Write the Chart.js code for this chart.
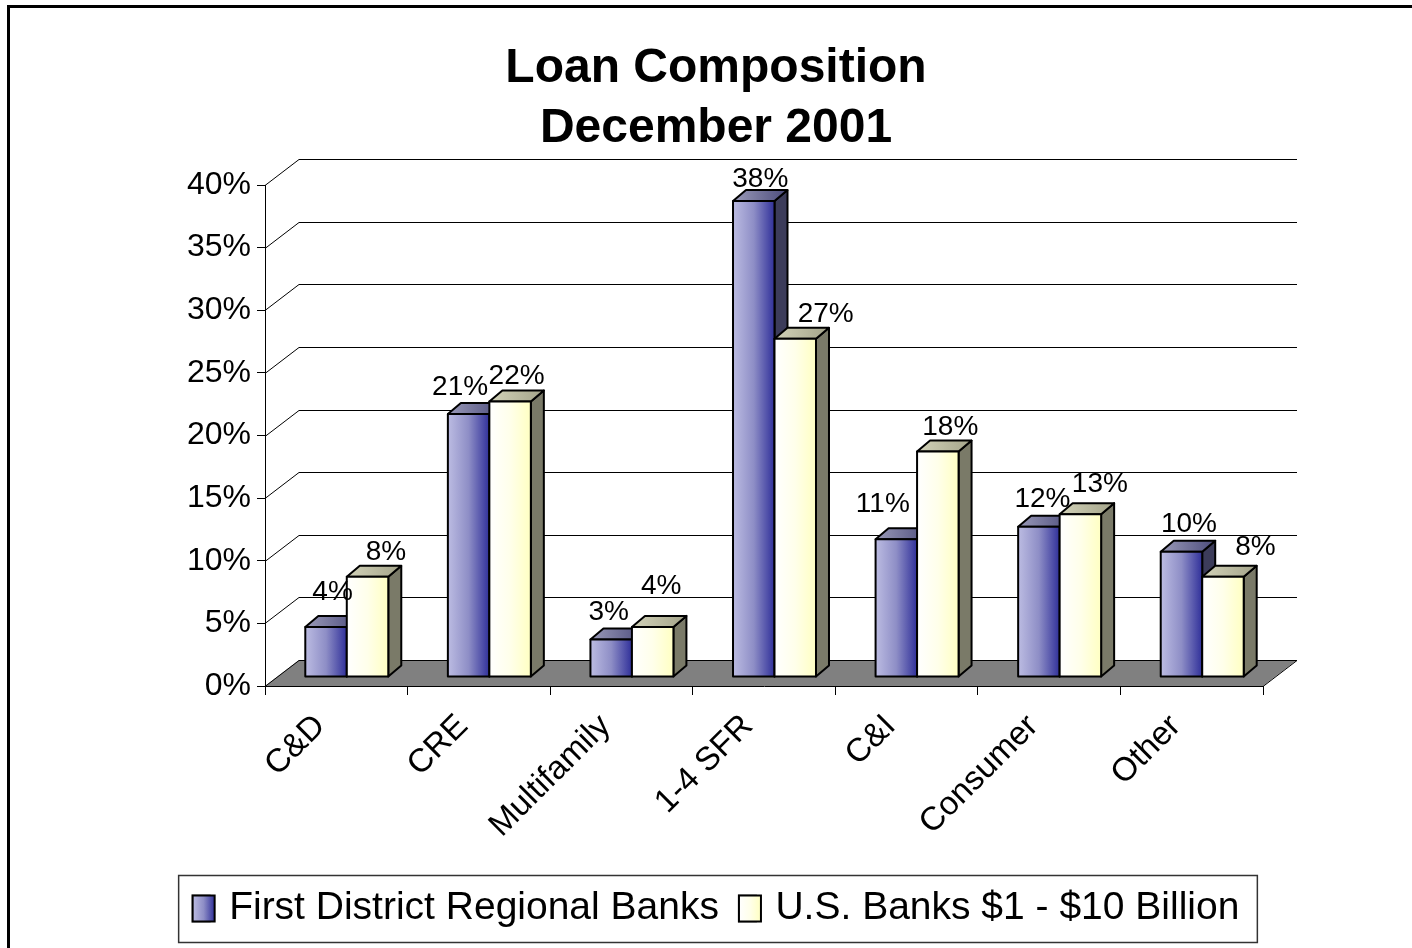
<!DOCTYPE html>
<html>
<head>
<meta charset="utf-8">
<title>Loan Composition December 2001</title>
<script src="https://cdn.jsdelivr.net/npm/chart.js@4.4.1/dist/chart.umd.min.js"></script>
<style>
  html, body { margin: 0; padding: 0; background: #fff; }
  canvas { display: block; }
</style>
</head>
<body>
<canvas id="loanChart" width="1412" height="948"></canvas>
<script>
/* -----------------------------
   DATA
----------------------------- */
const categories = ["C&D", "CRE", "Multifamily", "1-4 SFR", "C&I", "Consumer", "Other"];
const seriesNames = ["First District Regional Banks", "U.S. Banks $1 - $10 Billion"];
const firstDistrict = [4, 21, 3, 38, 11, 12, 10];
const usBanks = [8, 22, 4, 27, 18, 13, 8];
const yTicks = [0, 5, 10, 15, 20, 25, 30, 35, 40];

/* -----------------------------
   LOOK
----------------------------- */
const FONT = "'Liberation Sans', Arial, Helvetica, sans-serif";
const wall = { dx: 34, dy: -26 };       // floor / back wall depth
const barFront = { dx: 10.5, dy: -9 };  // bars stand a bit back from the front edge
const barDepth = { dx: 13, dy: -11 };

const looks = [
    { front: ["#bcbce2", "#8e8ec6", "#30309a"], top: ["#9a9ab8", "#4c4c7c"], side: "#3c3c5a" },
    { front: ["#ffffff", "#ffffea", "#ffffc2"], top: ["#d2d2b8", "#a4a48a"], side: "#7a7a68" }
];

// label nudges [x, lift] so the numbers clear the neighbouring bars
const labelShift = [
    [[0, 10], [-15, 2], [-9, 2], [0, -3], [-20, 10], [-3, 3], [1, 3]],
    [[12, 0], [0, 0], [2, 16], [24, 0], [6, 0], [13, 5], [26, 5]]
];

const LEGEND_FONT = 39;
const SWATCH = { w: 22, h: 26 };

function hGradient(ctx, x0, x1, stops) {
    const g = ctx.createLinearGradient(x0, 0, x1, 0);
    stops.forEach((c, i) => g.addColorStop(i / (stops.length - 1), c));
    return g;
}

function drawBox(ctx, bar, look) {
    const p = bar.getProps(["x", "y", "base", "width"], true);
    const half = p.width / 2;
    const x0 = p.x - half + barFront.dx;
    const x1 = p.x + half + barFront.dx;
    const yt = p.y + barFront.dy;
    const yb = p.base + barFront.dy;
    const { dx, dy } = barDepth;

    ctx.save();
    ctx.lineWidth = 2;
    ctx.lineJoin = "round";
    ctx.strokeStyle = "#000";

    // side
    ctx.beginPath();
    ctx.moveTo(x1, yt);
    ctx.lineTo(x1 + dx, yt + dy);
    ctx.lineTo(x1 + dx, yb + dy);
    ctx.lineTo(x1, yb);
    ctx.closePath();
    ctx.fillStyle = look.side;
    ctx.fill();
    ctx.stroke();

    // top
    ctx.beginPath();
    ctx.moveTo(x0, yt);
    ctx.lineTo(x1, yt);
    ctx.lineTo(x1 + dx, yt + dy);
    ctx.lineTo(x0 + dx, yt + dy);
    ctx.closePath();
    ctx.fillStyle = hGradient(ctx, x0, x1 + dx, look.top);
    ctx.fill();
    ctx.stroke();

    // front
    ctx.fillStyle = hGradient(ctx, x0, x1, look.front);
    ctx.fillRect(x0, yt, x1 - x0, yb - yt);
    ctx.strokeRect(x0, yt, x1 - x0, yb - yt);
    ctx.restore();

    return { cx: (x0 + x1) / 2 + dx / 2, topBack: yt + dy };
}

/* -----------------------------
   3D PLUGIN
----------------------------- */
const threeD = {
    id: "threeD",
    beforeDraw(chart) {
        const { ctx, scales: { x, y } } = chart;
        ctx.save();
        ctx.fillStyle = "#fff";
        ctx.fillRect(0, 0, chart.width, chart.height);
        ctx.lineWidth = 3;
        ctx.strokeStyle = "#000";
        ctx.strokeRect(8.5, 6.5, chart.width + 20, chart.height + 20);

        const left = x.left, right = x.right;
        const base = y.getPixelForValue(0);

        // floor
        ctx.beginPath();
        ctx.moveTo(left, base);
        ctx.lineTo(right, base);
        ctx.lineTo(right + wall.dx, base + wall.dy);
        ctx.lineTo(left + wall.dx, base + wall.dy);
        ctx.closePath();
        ctx.fillStyle = "#808080";
        ctx.fill();

        // back wall grid + side diagonals
        ctx.lineWidth = 1;
        ctx.strokeStyle = "#000";
        y.ticks.forEach(t => {
            const py = Math.round(y.getPixelForValue(t.value)) + 0.5;
            ctx.beginPath();
            ctx.moveTo(left, py);
            ctx.lineTo(left + wall.dx, py + wall.dy);
            ctx.lineTo(right + wall.dx, py + wall.dy);
            ctx.stroke();
        });
        ctx.beginPath();
        ctx.moveTo(right, base + 0.5);
        ctx.lineTo(right + wall.dx, base + wall.dy + 0.5);
        ctx.stroke();
        ctx.restore();
    },
    afterDatasetsDraw(chart) {
        const ctx = chart.ctx;
        const metas = [chart.getDatasetMeta(0), chart.getDatasetMeta(1)];
        const values = [firstDistrict, usBanks];
        const spots = [];

        categories.forEach((c, i) => {
            metas.forEach((meta, d) => {
                const s = drawBox(ctx, meta.data[i], looks[d]);
                spots.push({ s, d, i });
            });
        });

        ctx.save();
        ctx.font = "28px " + FONT;
        ctx.fillStyle = "#000";
        ctx.textAlign = "center";
        ctx.textBaseline = "alphabetic";
        spots.forEach(({ s, d, i }) => {
            const [sx, lift] = labelShift[d][i];
            ctx.fillText(values[d][i] + "%", s.cx + sx, s.topBack - 6 - lift);
        });
        ctx.restore();
    },
    afterDraw(chart) {
        const legend = chart.legend;
        if (!legend || !legend.legendHitBoxes.length) return;
        const ctx = chart.ctx;
        const boxes = legend.legendHitBoxes;

        ctx.save();
        // gradient swatches over the plain legend boxes
        boxes.forEach((hb, d) => {
            const bx = hb.left;
            const by = hb.top + Math.max((LEGEND_FONT - SWATCH.h) / 2, 0);
            ctx.fillStyle = "#fff";
            ctx.fillRect(bx - 1, by - 1, SWATCH.w + 2, SWATCH.h + 2);
            ctx.fillStyle = hGradient(ctx, bx, bx + SWATCH.w, looks[d].front);
            ctx.fillRect(bx, by, SWATCH.w, SWATCH.h);
            ctx.lineWidth = 2;
            ctx.strokeStyle = "#000";
            ctx.strokeRect(bx, by, SWATCH.w, SWATCH.h);
        });

        // legend frame
        const first = boxes[0], last = boxes[boxes.length - 1];
        const mid = first.top + LEGEND_FONT / 2;
        const fx = first.left - 14;
        ctx.lineWidth = 1.5;
        ctx.strokeStyle = "#333";
        ctx.strokeRect(fx, mid - 33, last.left + last.width + 18 - fx, 67);
        ctx.restore();
    }
};

/* -----------------------------
   CHART
----------------------------- */
const ctx = document.getElementById("loanChart");

new Chart(ctx, {
    type: "bar",
    data: {
        labels: categories,
        datasets: [
            {
                label: seriesNames[0],
                data: firstDistrict,
                backgroundColor: "rgba(0,0,0,0)",
                borderWidth: 0,
                barPercentage: 1,
                categoryPercentage: 0.582
            },
            {
                label: seriesNames[1],
                data: usBanks,
                backgroundColor: "rgba(0,0,0,0)",
                borderWidth: 0,
                barPercentage: 1,
                categoryPercentage: 0.582
            }
        ]
    },
    options: {
        responsive: false,
        animation: false,
        devicePixelRatio: 1,
        events: [],
        layout: { padding: { left: 20, right: 0, top: 0, bottom: 10 } },
        scales: {
            x: {
                grid: { drawOnChartArea: false, drawTicks: true, tickLength: 9, color: "#000", offset: true },
                border: { display: true, color: "#000", width: 1 },
                ticks: {
                    font: { family: FONT, size: 33 },
                    color: "#000",
                    autoSkip: false,
                    maxRotation: 45,
                    minRotation: 45,
                    padding: 12,
                    labelOffset: -16
                },
                afterFit: s => { s.height = 183; }
            },
            y: {
                min: 0,
                max: 40,
                afterBuildTicks: s => { s.ticks = yTicks.map(v => ({ value: v })); },
                grid: { drawOnChartArea: false, drawTicks: true, tickLength: 8, color: "#000" },
                border: { display: true, color: "#000", width: 1 },
                ticks: {
                    font: { family: FONT, size: 32 },
                    color: "#000",
                    padding: 6,
                    callback: v => v + "%"
                },
                afterFit: s => { s.width = 245; }
            },
            // keeps the plot clear of the right-hand margin
            spacer: {
                type: "linear",
                position: "right",
                display: true,
                grid: { display: false },
                border: { display: false },
                ticks: { display: false },
                afterFit: s => { s.width = 149; }
            }
        },
        plugins: {
            title: {
                display: true,
                text: ["Loan Composition", "December 2001"],
                color: "#000",
                font: { family: FONT, size: 48, weight: "bold", lineHeight: 60 / 48 },
                padding: { top: 39, bottom: 26 }
            },
            legend: {
                display: true,
                position: "bottom",
                labels: {
                    font: { family: FONT, size: LEGEND_FONT },
                    color: "#000",
                    boxWidth: 17,
                    boxHeight: SWATCH.h,
                    padding: 20,
                    generateLabels: () => seriesNames.map((name, i) => ({
                        text: name,
                        fillStyle: looks[i].front[1],
                        strokeStyle: "#000",
                        lineWidth: 2,
                        hidden: false,
                        datasetIndex: i
                    }))
                }
            },
            tooltip: { enabled: false }
        }
    },
    plugins: [threeD]
});
</script>
</body>
</html>
